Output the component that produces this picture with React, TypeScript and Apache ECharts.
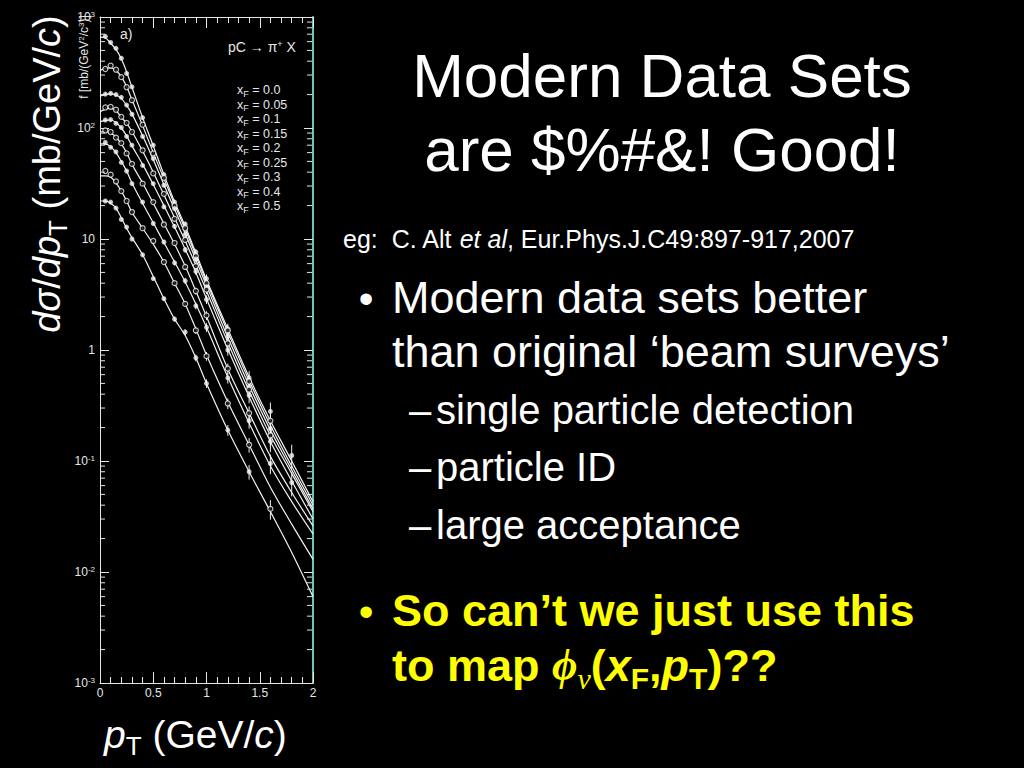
import React, { useEffect, useRef } from "react";
import * as echarts from "echarts";

const FONT = '"Liberation Sans", Arial, Helvetica, sans-serif';
const SERIF = '"Liberation Serif", "Times New Roman", serif';
const AX = "#e6e6e6";
const LINE = "#f2f2f2";
const CYAN = "#66c8bf";
const YELLOW = "#ffff00";

// pT (GeV/c) grid on which the fitted curves are read
const PT_FIT = [0, 0.05, 0.1, 0.15, 0.2, 0.25, 0.3, 0.4, 0.5, 0.6, 0.7, 0.8, 0.9, 1.0, 1.2, 1.4, 1.6, 1.8, 2.0];
// pT bins of the measured points
const PT_BINS = [0.05, 0.1, 0.15, 0.2, 0.25, 0.3, 0.4, 0.5, 0.6, 0.7, 0.8, 0.9, 1.0, 1.2, 1.4, 1.6, 1.8];

const XF_LABELS = ["0.0", "0.05", "0.1", "0.15", "0.2", "0.25", "0.3", "0.4", "0.5"];

// fitted curves f (mb/(GeV^2/c^3)) per x_F
const FIT_XF_000 = [660, 650, 580, 510, 420, 320, 233, 124, 69, 38, 21.7, 13, 7.5, 4.3, 1.55, 0.57, 0.23, 0.1, 0.043];
const FIT_XF_005 = [330, 345, 348, 330, 290, 235, 180, 105, 60, 35, 20.5, 12.3, 7.1, 4.1, 1.45, 0.53, 0.21, 0.09, 0.04];
const FIT_XF_010 = [193, 200, 203, 198, 185, 160, 134, 85, 52, 31, 18.5, 11.2, 6.5, 3.8, 1.3, 0.48, 0.19, 0.083, 0.037];
const FIT_XF_015 = [140, 148, 150, 143, 125, 110, 93, 62, 40, 25, 15.5, 9.6, 5.8, 3.4, 1.17, 0.43, 0.17, 0.077, 0.035];
const FIT_XF_020 = [114, 117, 118, 112, 100, 85, 69, 47, 31, 20, 12.8, 8.1, 5.0, 2.9, 1.02, 0.38, 0.15, 0.066, 0.03];
const FIT_XF_025 = [92, 93, 90, 83, 72, 60, 47, 32, 21, 13.8, 9, 5.7, 3.4, 2.0, 0.675, 0.27, 0.11, 0.052, 0.026];
const FIT_XF_030 = [72, 72, 68, 60, 50, 41, 32, 21, 14, 9.3, 6.2, 4.1, 2.6, 1.6, 0.57, 0.22, 0.09, 0.043, 0.022];
const FIT_XF_040 = [37, 37, 36, 32, 27, 22, 17.4, 12.5, 9.0, 6.2, 4.0, 2.6, 1.55, 0.9, 0.34, 0.14, 0.058, 0.027, 0.013];
const FIT_XF_050 = [22, 22, 21, 19, 15.5, 12.5, 10.3, 7.2, 4.6, 2.9, 1.9, 1.35, 0.85, 0.5, 0.19, 0.08, 0.035, 0.015, 0.006];

// measured points per x_F (null = no point)
const PTS_XF_000 = [670, 590, 522, 425, 310, 235, 124, 70, 38, 21.5, 13.6, 7.6, 4.4, 1.55, 0.56, 0.28, 0.112];
const PTS_XF_005 = [340, 365, 335, 287, 233, 178, 107, 59, 35.5, 20, 12.5, 7.0, 4.0, 1.5, 0.52, 0.23, null];
const PTS_XF_010 = [202, 205, 200, 189, 161, 133, 84, 53, 30.5, 18.8, 11, 6.6, 3.7, 1.32, 0.47, 0.195, null];
const PTS_XF_015 = [153, 155, 146, 126, 111, 92, 63, 39, 25.5, 15.2, 9.8, 5.7, 3.5, 1.15, 0.44, 0.17, null];
const PTS_XF_020 = [118, 119, 110, 101, 84, 70, 46, 31.5, 19.5, 13, 8.0, 5.1, 2.85, 1.0, 0.39, 0.15, 0.064];
const PTS_XF_025 = [95, 92, 82, 73, 59, 47.5, 31.5, 21.5, 13.5, 9.2, 5.6, 3.4, 2.05, 0.68, 0.27, null, null];
const PTS_XF_030 = [74, 67, 61, 49, 41, 31.5, 21.5, 13.8, 9.4, 6.1, 4.2, 2.5, 1.6, 0.56, 0.23, 0.095, null];
const PTS_XF_040 = [41, 38, 33, 27, 22, 17.5, 12.5, 9.6, 6.2, 4.0, 2.6, 1.5, 0.88, 0.33, 0.14, 0.037, null];
const PTS_XF_050 = [22, 21.5, 19, 15, 12.8, 10, 7.2, 4.4, 2.9, 1.9, 1.45, 0.85, 0.5, 0.19, 0.08, null, null];

// relative error per pT bin
const ERR_REL = [0.02, 0.02, 0.02, 0.02, 0.02, 0.02, 0.03, 0.03, 0.04, 0.05, 0.06, 0.07, 0.09, 0.11, 0.15, 0.2, 0.25];

const X_TICK_LABELS = ["0", "0.5", "1", "1.5", "2"];
const Y_DECADE_EXP = [-3, -2, -1, 0, 1, 2, 3];
const Y_MINOR_MULT = [2, 3, 4, 5, 6, 7, 8, 9];

const CURVES = [
  { fit: FIT_XF_000, pts: PTS_XF_000, open: false },
  { fit: FIT_XF_005, pts: PTS_XF_005, open: true },
  { fit: FIT_XF_010, pts: PTS_XF_010, open: false },
  { fit: FIT_XF_015, pts: PTS_XF_015, open: true },
  { fit: FIT_XF_020, pts: PTS_XF_020, open: false },
  { fit: FIT_XF_025, pts: PTS_XF_025, open: true },
  { fit: FIT_XF_030, pts: PTS_XF_030, open: false },
  { fit: FIT_XF_040, pts: PTS_XF_040, open: true },
  { fit: FIT_XF_050, pts: PTS_XF_050, open: false },
];

function buildOption() {
  const minorTicks: number[][] = [];
  Y_DECADE_EXP.slice(0, -1).forEach((e) => {
    Y_MINOR_MULT.forEach((m) => minorTicks.push([0, Number((m * Math.pow(10, e)).toPrecision(3))]));
  });

  const errData: number[][] = [];
  CURVES.forEach((c) => {
    PT_BINS.forEach((p, j) => {
      const v = c.pts[j];
      if (v != null) errData.push([p, v, ERR_REL[j]]);
    });
  });

  const lineSeries = CURVES.map((c) => ({
    type: "line",
    data: PT_FIT.map((p, j) => [p, c.fit[j]]),
    smooth: 0.3,
    symbol: "none",
    lineStyle: { color: LINE, width: 1.2 },
    silent: true,
    z: 2,
  }));

  const scatterSeries = CURVES.map((c) => ({
    type: "scatter",
    data: PT_BINS.map((p, j) => (c.pts[j] == null ? null : [p, c.pts[j]])).filter((d) => d != null),
    symbol: "circle",
    symbolSize: 5,
    itemStyle: c.open
      ? { color: "#000", borderColor: LINE, borderWidth: 1.2 }
      : { color: LINE, borderColor: LINE, borderWidth: 0 },
    silent: true,
    z: 5,
  }));

  const yLabelFormatter = (v: number) => {
    const e = Math.round(Math.log10(v));
    if (e === 0) return "1";
    if (e === 1) return "10";
    return "10{sup|" + (e < 0 ? "-" : "") + Math.abs(e) + "}";
  };

  const xAxisBase = {
    type: "value",
    min: 0,
    max: 2,
    interval: 0.5,
    axisLine: { show: true, onZero: false, lineStyle: { color: AX, width: 1 } },
    axisTick: { show: true, inside: true, length: 11, lineStyle: { color: AX, width: 1 } },
    minorTick: { show: true, splitNumber: 5, length: 6, lineStyle: { color: AX, width: 1 } },
    splitLine: { show: false },
    minorSplitLine: { show: false },
  };

  const yAxisBase = {
    type: "log",
    logBase: 10,
    min: 0.001,
    max: 1000,
    splitLine: { show: false },
  };

  const textEl = (x: number, y: number, style: any, extra: any = {}) => ({
    type: "text",
    x,
    y,
    silent: true,
    ...extra,
    style: {
      fontFamily: FONT,
      fill: "#fff",
      textAlign: style.align || "left",
      textVerticalAlign: style.verticalAlign || "middle",
      align: style.align || "left",
      verticalAlign: style.verticalAlign || "middle",
      ...style,
    },
  });

  const graphics: any[] = [
    // slide title
    textEl(662, 75, { text: "Modern Data Sets", fontSize: 62, align: "center" }),
    textEl(662, 149, { text: "are $%#&! Good!", fontSize: 62, align: "center" }),
    // citation
    textEl(343, 239, {
      text: "eg:\u00a0 C. Alt {i|et al}, Eur.Phys.J.C49:897-917,2007",
      fontSize: 25,
      rich: { i: { fontStyle: "italic", fontSize: 25, fontFamily: FONT, fill: "#fff" } },
    }),
    // bullets
    textEl(366, 298, { text: "•", fontSize: 42, align: "center" }),
    textEl(392, 297, { text: "Modern data sets better", fontSize: 45 }),
    textEl(392, 351, { text: "than original \u2018beam surveys\u2019", fontSize: 45 }),
    textEl(409, 410, { text: "\u2013", fontSize: 40 }),
    textEl(436, 410, { text: "single particle detection", fontSize: 40 }),
    textEl(409, 467, { text: "\u2013", fontSize: 40 }),
    textEl(436, 467, { text: "particle ID", fontSize: 40 }),
    textEl(409, 525, { text: "\u2013", fontSize: 40 }),
    textEl(436, 525, { text: "large acceptance", fontSize: 40 }),
    textEl(366, 611, { text: "•", fontSize: 42, align: "center", fill: YELLOW }),
    textEl(392, 610, { text: "So can\u2019t we just use this", fontSize: 45, fontWeight: "bold", fill: YELLOW }),
    textEl(392, 665, {
      text: "to map {phi|\u03d5}{nu|\u03bd}({xi|x}{sub|F},{xi|p}{sub|T})??",
      fontSize: 45,
      fontWeight: "bold",
      fill: YELLOW,
      lineHeight: 56,
      rich: {
        phi: { fontFamily: SERIF, fontStyle: "italic", fontWeight: "bold", fontSize: 44, lineHeight: 56, fill: YELLOW },
        nu: { fontFamily: SERIF, fontStyle: "italic", fontSize: 30, lineHeight: 30, verticalAlign: "bottom", fill: YELLOW },
        xi: { fontFamily: FONT, fontStyle: "italic", fontWeight: "bold", fontSize: 45, lineHeight: 56, fill: YELLOW },
        sub: { fontFamily: FONT, fontWeight: "bold", fontSize: 30, lineHeight: 30, verticalAlign: "bottom", fill: YELLOW },
      },
    }),
    // big axis titles
    textEl(
      47,
      174,
      {
        text: "{i|d}{i|\u03c3}/{i|dp}{sub|T} (mb/GeV/{i|c})",
        fontSize: 38,
        lineHeight: 48,
        align: "center",
        rich: {
          i: { fontStyle: "italic", fontSize: 38, lineHeight: 48, fontFamily: FONT, fill: "#fff" },
          sub: { fontSize: 26, lineHeight: 26, verticalAlign: "bottom", fontFamily: FONT, fill: "#fff" },
        },
      },
      { rotation: Math.PI / 2 }
    ),
    textEl(104, 734, {
      text: "{i|p}{sub|T} (GeV/{i|c})",
      fontSize: 39,
      lineHeight: 50,
      rich: {
        i: { fontStyle: "italic", fontSize: 39, lineHeight: 50, fontFamily: FONT, fill: "#fff" },
        sub: { fontSize: 26, lineHeight: 26, verticalAlign: "bottom", fontFamily: FONT, fill: "#fff" },
      },
    }),
    // original figure annotations
    textEl(
      84,
      57,
      {
        text: "f [mb/(GeV{s|2}/c{s|3})]",
        fontSize: 12,
        lineHeight: 14,
        fill: AX,
        align: "center",
        rich: { s: { fontSize: 8, lineHeight: 8, verticalAlign: "top", fontFamily: FONT, fill: AX } },
      },
      { rotation: Math.PI / 2 }
    ),
    textEl(120, 34, { text: "a)", fontSize: 14, fill: AX }),
    textEl(228, 47, {
      text: "pC \u2192 \u03c0{s|+} X",
      fontSize: 14,
      lineHeight: 16,
      fill: AX,
      rich: { s: { fontSize: 9, lineHeight: 9, verticalAlign: "top", fontFamily: FONT, fill: AX } },
    }),
    ...XF_LABELS.map((lab, i) =>
      textEl(237, 90 + i * 14.5, {
        text: "x{sub|F} = " + lab,
        fontSize: 12.5,
        lineHeight: 16,
        fill: AX,
        rich: { sub: { fontSize: 9, lineHeight: 9, verticalAlign: "bottom", fontFamily: FONT, fill: AX } },
      })
    ),
  ];

  return {
    backgroundColor: "#000",
    animation: false,
    grid: { left: 100, top: 17, width: 213, height: 666, show: false },
    xAxis: [
      {
        ...xAxisBase,
        position: "bottom",
        axisLabel: {
          show: true,
          color: AX,
          fontSize: 12,
          fontFamily: FONT,
          margin: 4,
          formatter: (v: number) => X_TICK_LABELS[Math.round(v * 2)] ?? "",
        },
      },
      { ...xAxisBase, position: "top", axisLabel: { show: false } },
    ],
    yAxis: [
      {
        ...yAxisBase,
        position: "left",
        axisLine: { show: true, onZero: false, lineStyle: { color: AX, width: 1 } },
        axisTick: { show: true, inside: true, length: 9, lineStyle: { color: AX } },
        axisLabel: {
          show: true,
          color: AX,
          fontSize: 12,
          fontFamily: FONT,
          margin: 5,
          lineHeight: 14,
          formatter: yLabelFormatter,
          rich: { sup: { fontSize: 8, lineHeight: 8, verticalAlign: "top", color: AX, fontFamily: FONT } },
        },
      },
      {
        ...yAxisBase,
        position: "right",
        axisLine: { show: true, onZero: false, lineStyle: { color: CYAN, width: 2 } },
        axisTick: { show: true, inside: true, length: 9, lineStyle: { color: AX } },
        axisLabel: { show: false },
      },
    ],
    series: [
      ...lineSeries,
      {
        type: "custom",
        data: errData,
        silent: true,
        z: 4,
        renderItem: (params: any, api: any) => {
          const x = api.value(0);
          const v = api.value(1);
          const e = api.value(2);
          const a = api.coord([x, v * (1 + e)]);
          const b = api.coord([x, v * (1 - e)]);
          return {
            type: "line",
            shape: { x1: a[0], y1: a[1], x2: b[0], y2: b[1] },
            style: { stroke: LINE, lineWidth: 1 },
          };
        },
      },
      ...scatterSeries,
      {
        type: "custom",
        data: minorTicks,
        silent: true,
        z: 6,
        clip: false,
        renderItem: (params: any, api: any) => {
          const v = api.value(1);
          const l = api.coord([0, v]);
          const r = api.coord([2, v]);
          return {
            type: "group",
            children: [
              { type: "line", shape: { x1: l[0], y1: l[1], x2: l[0] + 5, y2: l[1] }, style: { stroke: AX, lineWidth: 1 } },
              { type: "line", shape: { x1: r[0] - 6, y1: r[1], x2: r[0] - 1, y2: r[1] }, style: { stroke: AX, lineWidth: 1 } },
            ],
          };
        },
      },
    ],
    graphic: { elements: graphics },
  };
}

export default function App() {
  const ref = useRef<HTMLDivElement>(null);
  useEffect(() => {
    document.body.style.margin = "0";
    document.body.style.background = "#000";
    if (!ref.current) return;
    const chart = echarts.init(ref.current, null, { renderer: "svg" });
    chart.setOption(buildOption() as any);
    return () => chart.dispose();
  }, []);
  return (
    <div
      ref={ref}
      style={{ position: "absolute", left: 0, top: 0, width: 1024, height: 768, background: "#000" }}
    />
  );
}
